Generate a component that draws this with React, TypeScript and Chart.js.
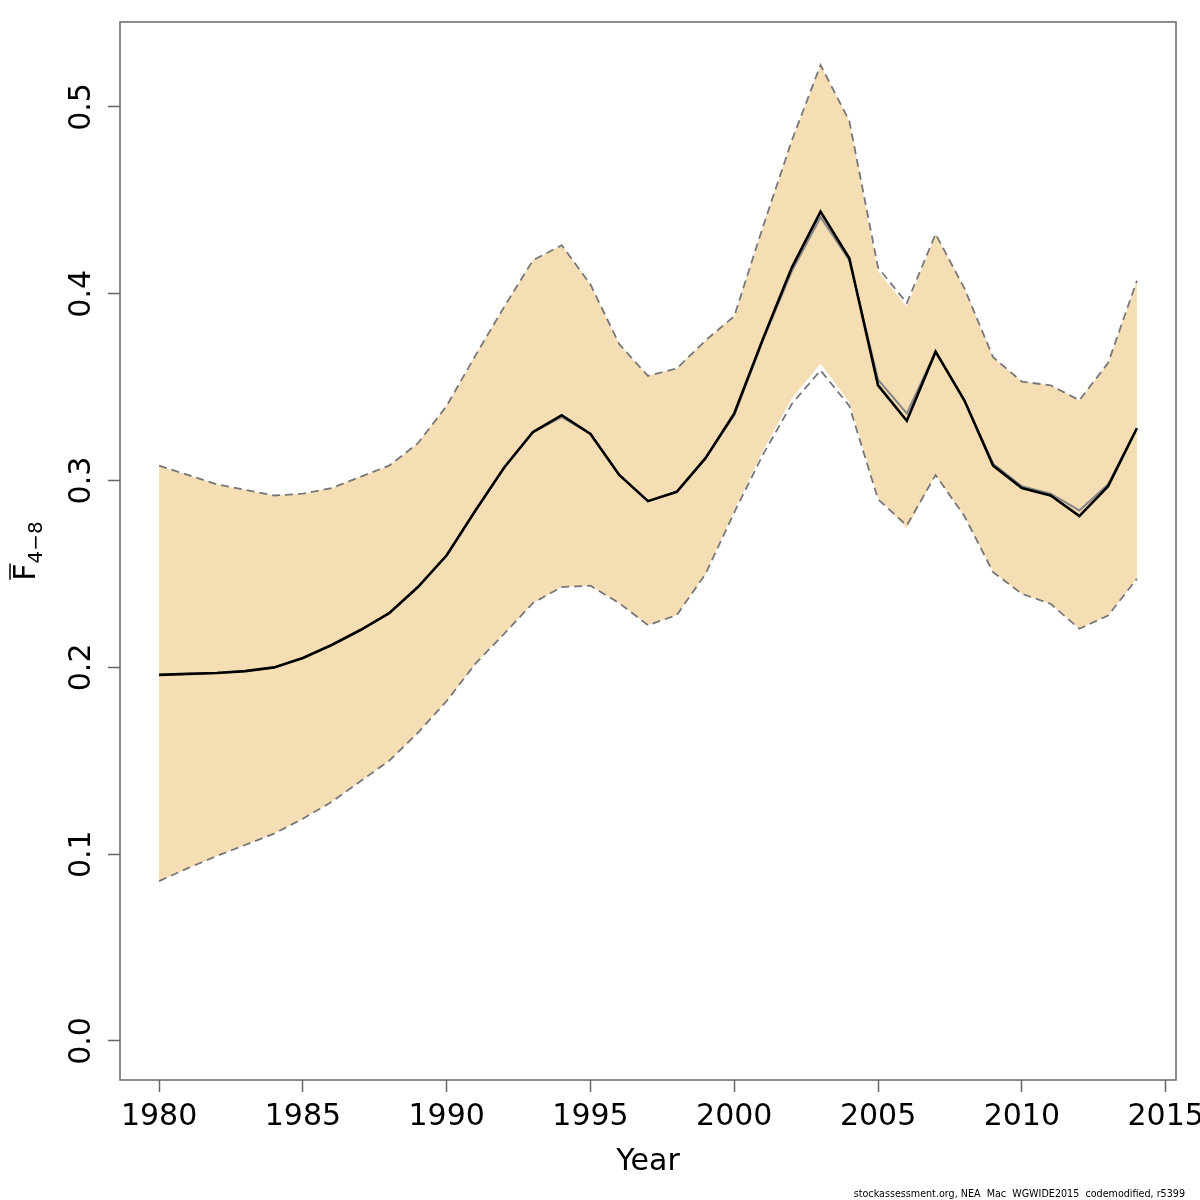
import { useEffect, useRef } from "react"
import { Chart, registerables } from "chart.js"

Chart.register(...registerables)

// years of the assessment
const years = [
  1980, 1981, 1982, 1983, 1984, 1985, 1986, 1987, 1988, 1989,
  1990, 1991, 1992, 1993, 1994, 1995, 1996, 1997, 1998, 1999,
  2000, 2001, 2002, 2003, 2004, 2005, 2006, 2007, 2008, 2009,
  2010, 2011, 2012, 2013, 2014,
]

// mean F (ages 4-8), current run
const fbar = [
  0.196, 0.1965, 0.197, 0.198, 0.2, 0.205, 0.212, 0.22, 0.229, 0.243,
  0.26, 0.284, 0.307, 0.326, 0.335, 0.325, 0.303, 0.289, 0.294, 0.312,
  0.336, 0.376, 0.414, 0.444, 0.419, 0.351, 0.332, 0.369, 0.343, 0.308,
  0.296, 0.292, 0.281, 0.297, 0.328,
]

// mean F, base run (grey line)
const fbarBase = [
  0.196, 0.1965, 0.197, 0.198, 0.2, 0.205, 0.212, 0.22, 0.229, 0.243,
  0.26, 0.284, 0.307, 0.326, 0.334, 0.325, 0.303, 0.289, 0.294, 0.312,
  0.335, 0.375, 0.412, 0.441, 0.418, 0.354, 0.336, 0.369, 0.343, 0.309,
  0.297, 0.293, 0.284, 0.298, 0.328,
]

// confidence band (filled)
const bandUpper = [
  0.308, 0.303, 0.298, 0.295, 0.292, 0.293, 0.296, 0.302, 0.308, 0.32,
  0.34, 0.367, 0.393, 0.418, 0.426, 0.405, 0.373, 0.356, 0.36, 0.375,
  0.388, 0.436, 0.482, 0.5225, 0.4925, 0.412, 0.393, 0.432, 0.403, 0.366,
  0.353, 0.351, 0.343, 0.363, 0.407,
]
const bandLower = [
  0.0856, 0.0925, 0.099, 0.105, 0.111, 0.119, 0.128, 0.139, 0.15, 0.165,
  0.182, 0.202, 0.218, 0.2345, 0.243, 0.2437, 0.2344, 0.2226, 0.228, 0.25,
  0.284, 0.316, 0.344, 0.3626, 0.342, 0.291, 0.2743, 0.303, 0.281, 0.251,
  0.2394, 0.234, 0.2207, 0.2278, 0.2474,
]

// confidence limits of the base run (dashed)
const baseUpper = [
  0.308, 0.303, 0.298, 0.295, 0.292, 0.293, 0.296, 0.302, 0.308, 0.32,
  0.34, 0.367, 0.393, 0.418, 0.426, 0.405, 0.373, 0.356, 0.36, 0.375,
  0.388, 0.436, 0.482, 0.5225, 0.4925, 0.414, 0.395, 0.432, 0.403, 0.366,
  0.353, 0.351, 0.343, 0.363, 0.407,
]
const baseLower = [
  0.0856, 0.0925, 0.099, 0.105, 0.111, 0.119, 0.128, 0.139, 0.15, 0.165,
  0.182, 0.202, 0.218, 0.2345, 0.243, 0.2437, 0.2344, 0.2226, 0.228, 0.25,
  0.283, 0.314, 0.341, 0.359, 0.34, 0.29, 0.276, 0.303, 0.281, 0.251,
  0.2394, 0.234, 0.2207, 0.2278, 0.2474,
]

const xTicks = [1980, 1985, 1990, 1995, 2000, 2005, 2010, 2015]
const yTicks = [0.0, 0.1, 0.2, 0.3, 0.4, 0.5]

const FONT = "DejaVu Sans"

const pts = (vals: number[]) => years.map((y, i) => ({ x: y, y: vals[i] }))

const frame = {
  id: "frame",
  afterDraw(chart: Chart) {
    const { ctx, chartArea: a } = chart
    ctx.save()
    ctx.strokeStyle = "#666"
    ctx.lineWidth = 1.5
    ctx.strokeRect(a.left, a.top, a.right - a.left, a.bottom - a.top)

    // y axis title: F with overline, subscript 4-8
    ctx.translate(35, (a.top + a.bottom) / 2)
    ctx.rotate(-Math.PI / 2)
    ctx.fillStyle = "#000"
    ctx.textBaseline = "alphabetic"
    ctx.textAlign = "left"
    ctx.font = `30px "${FONT}"`
    const wF = ctx.measureText("F").width
    ctx.font = `20px "${FONT}"`
    const sub = "4\u22128"
    const wS = ctx.measureText(sub).width
    const x0 = -(wF + wS) / 2
    ctx.font = `30px "${FONT}"`
    ctx.fillText("F", x0, 0)
    ctx.font = `20px "${FONT}"`
    ctx.fillText(sub, x0 + wF, 7)
    ctx.strokeStyle = "#000"
    ctx.lineWidth = 1.5
    ctx.beginPath()
    ctx.moveTo(x0 + 1, -25)
    ctx.lineTo(x0 + wF, -25)
    ctx.stroke()
    ctx.restore()

    // footer
    ctx.save()
    ctx.fillStyle = "#000"
    ctx.font = `9.6px "${FONT}"`
    ctx.textAlign = "right"
    ctx.textBaseline = "alphabetic"
    ctx.fillText("stockassessment.org, NEA  Mac  WGWIDE2015  codemodified, r5399", 1185, 1197)
    ctx.restore()
  },
}

export default function App() {
  const canvasRef = useRef<HTMLCanvasElement>(null)
  const chartRef = useRef<Chart | null>(null)

  useEffect(() => {
    if (!canvasRef.current) return
    if (chartRef.current) chartRef.current.destroy()

    const line = { pointRadius: 0, tension: 0, fill: false }

    chartRef.current = new Chart(canvasRef.current, {
      type: "line",
      data: {
        datasets: [
          { ...line, data: pts(fbar), borderColor: "#000", borderWidth: 2.6, order: 0 },
          { ...line, data: pts(fbarBase), borderColor: "#888", borderWidth: 2, order: 1 },
          { ...line, data: pts(baseUpper), borderColor: "#777", borderWidth: 1.8, borderDash: [8, 5], order: 2 },
          { ...line, data: pts(baseLower), borderColor: "#777", borderWidth: 1.8, borderDash: [8, 5], order: 2 },
          { ...line, data: pts(bandUpper), borderWidth: 0, fill: "+1", backgroundColor: "rgb(245,222,179)", order: 3 },
          { ...line, data: pts(bandLower), borderWidth: 0, order: 3 },
        ],
      },
      options: {
        animation: false,
        responsive: false,
        devicePixelRatio: 1,
        layout: { padding: { left: 0, top: 22, right: 24, bottom: 0 } },
        plugins: {
          legend: { display: false },
          tooltip: { enabled: false },
          filler: { drawTime: "beforeDatasetsDraw" },
        },
        scales: {
          x: {
            type: "linear",
            min: 1978.64,
            max: 2015.36,
            afterBuildTicks: (s: any) => {
              s.ticks = xTicks.map((v) => ({ value: v }))
            },
            afterFit: (s: any) => {
              s.height = 120
              s.paddingLeft = 0
              s.paddingRight = 0
            },
            border: { display: false },
            grid: { drawOnChartArea: false, drawTicks: true, tickLength: 12, tickColor: "#666", tickWidth: 1.5 },
            ticks: {
              autoSkip: false,
              maxRotation: 0,
              padding: 7,
              color: "#000",
              font: { family: FONT, size: 30 },
              callback: (v: any) => String(v),
            },
            title: {
              display: true,
              text: "Year",
              color: "#000",
              font: { family: FONT, size: 30 },
              padding: { top: 0, bottom: 20 },
            },
          },
          y: {
            type: "linear",
            min: -0.0209,
            max: 0.5455,
            afterBuildTicks: (s: any) => {
              s.ticks = yTicks.map((v) => ({ value: v }))
            },
            afterFit: (s: any) => {
              s.width = 120
              s.paddingTop = 0
              s.paddingBottom = 0
            },
            border: { display: false },
            grid: { drawOnChartArea: false, drawTicks: true, tickLength: 12, tickColor: "#666", tickWidth: 1.5 },
            ticks: {
              autoSkip: false,
              minRotation: 90,
              maxRotation: 90,
              crossAlign: "center",
              padding: 2,
              color: "#000",
              font: { family: FONT, size: 30 },
              callback: (v: any) => Number(v).toFixed(1),
            },
          },
        },
      },
      plugins: [frame],
    })

    return () => {
      if (chartRef.current) {
        chartRef.current.destroy()
        chartRef.current = null
      }
    }
  }, [])

  return (
    <div style={{ position: "absolute", left: 0, top: 0, width: 1200, height: 1200 }}>
      <canvas ref={canvasRef} width={1200} height={1200} />
    </div>
  )
}
